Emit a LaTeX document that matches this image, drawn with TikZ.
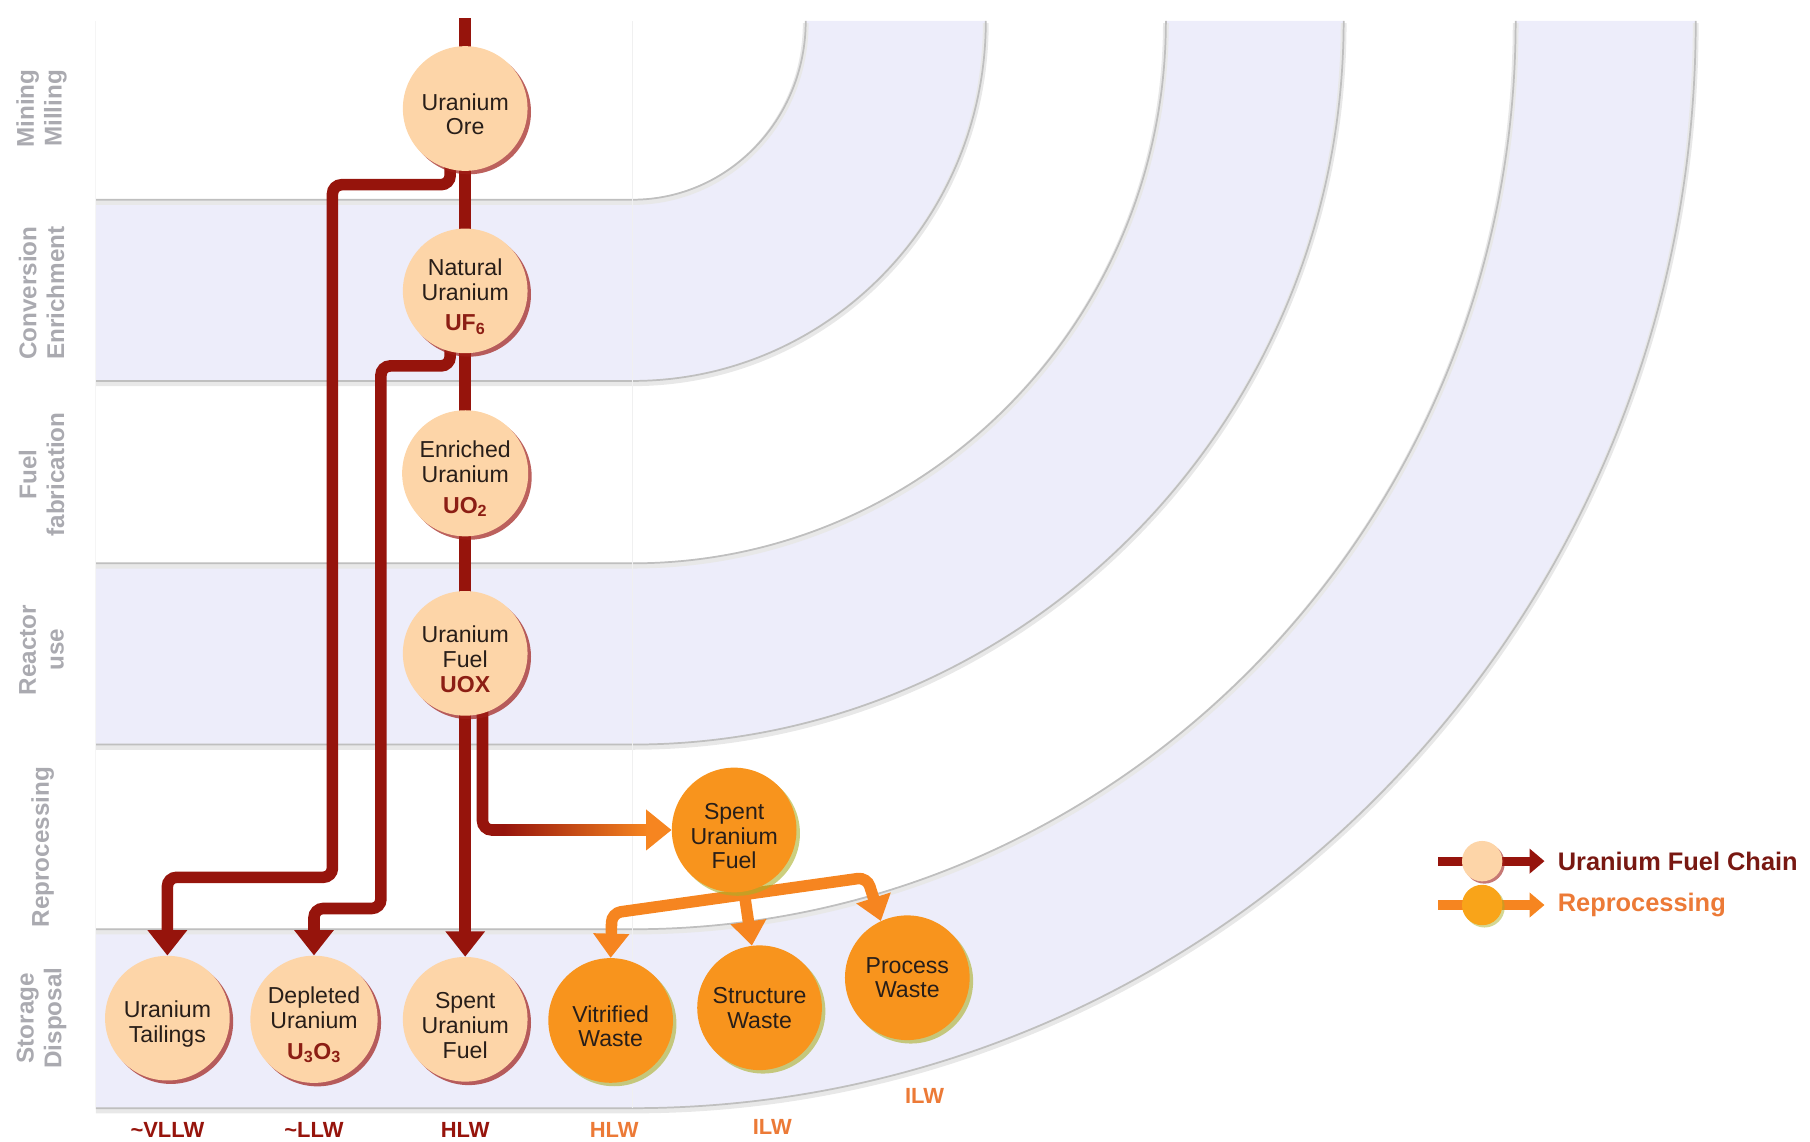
\documentclass[tikz,border=0pt]{standalone}
\usepackage{fontspec}
\setmainfont{Liberation Sans}
\usetikzlibrary{arrows.meta,shadows,calc}
\definecolor{peach}{RGB}{253,213,168}
\definecolor{fuelred}{RGB}{150,20,12}
\definecolor{fuelshadow}{RGB}{160,30,24}
\definecolor{repfill}{RGB}{248,148,29}
\definecolor{reporange}{RGB}{246,133,32}
\definecolor{repshadow}{RGB}{170,175,40}
\definecolor{bandblue}{RGB}{237,237,250}
\definecolor{rowgray}{RGB}{170,170,176}
\definecolor{inkdark}{RGB}{40,30,25}
\definecolor{formred}{RGB}{140,30,20}
\definecolor{wasteorange}{RGB}{236,122,55}
\definecolor{legred}{RGB}{120,24,18}
\newcommand\chemlabel[1]{{\color{formred}\bfseries #1}}
\newcommand\padtop{\mbox{}\\[3pt]}
\pgfdeclarelayer{bands}
\pgfdeclarelayer{links}
\pgfsetlayers{bands,links,main}

\begin{document}
\begin{tikzpicture}[x=1pt,y=1pt,
  wastebase/.style={circle, minimum size=108pt, inner sep=0pt, align=center,
    text=inkdark, font=\fontsize{20}{21.5}\selectfont},
  fuelnode/.style={wastebase, fill=peach,
    drop shadow={shadow xshift=3pt, shadow yshift=-3pt, fill=fuelshadow, opacity=0.7}},
  repnode/.style={wastebase, fill=repfill,
    drop shadow={shadow xshift=3pt, shadow yshift=-3pt, fill=repshadow, opacity=0.6}},
  rowlabel/.style={rotate=90, align=center, text=rowgray, font=\fontsize{21}{24}\selectfont\bfseries},
  fuelline/.style={draw=fuelred, line width=10pt, rounded corners=8pt},
  repline/.style={draw=reporange, line width=10pt, rounded corners=8pt},
  bigtip/.style={-{Triangle[width=33pt,length=22pt]}},
  reptip/.style={-{Triangle[width=30pt,length=21pt]}},
  reptips/.style={{Triangle[width=30pt,length=21pt]}-{Triangle[width=30pt,length=21pt]}},
  wastelabel/.style={font=\fontsize{19}{21}\selectfont\bfseries},
  legtext/.style={anchor=west, font=\fontsize{22}{24}\selectfont\bfseries}]
\useasboundingbox (0,0) rectangle (1568,-989);

% bands: straight on the left, quarter rings on the right
\begin{pgfonlayer}{bands}
\foreach \ra/\rb/\rc/\rd in {150/155/306/312, 462/470/616/627, 765/787/921/942}
  \fill[bandblue] (83,-18-\rb) -- (548,-18-\rb)
    arc[start angle=-90, end angle=0, x radius=\ra, y radius=\rb]
    -- ({548+\rc},-18) arc[start angle=0, end angle=-90, x radius=\rc, y radius=\rd]
    -- (83,-18-\rd) -- cycle;
\foreach \rx/\ry in {150/155, 306/312, 462/470, 616/627, 765/787, 921/942} {
  \draw[gray!18, line width=5pt, yshift=-2pt] (83,-18-\ry) -- (548,-18-\ry)
    arc[start angle=-90, end angle=0, x radius=\rx, y radius=\ry];
  \draw[gray!50, line width=1.5pt] (83,-18-\ry) -- (548,-18-\ry)
    arc[start angle=-90, end angle=0, x radius=\rx, y radius=\ry];
}
\draw[gray!12, line width=1pt] (548,-18) -- (548,-960);
\draw[gray!8, line width=1pt] (83,-18) -- (83,-960);
\end{pgfonlayer}

% row labels
\node[rowlabel] (rmine) at (36,-94) {Mining\\Milling};
\node[rowlabel] (rconv) at (36,-254) {Conversion\\Enrichment};
\node[rowlabel] (rfab) at (36,-411) {Fuel\\fabrication};
\node[rowlabel] (rreac) at (36,-563) {Reactor\\use};
\node[rowlabel] (rrepr) at (37,-734) {Reprocessing};
\node[rowlabel] (rstor) at (36,-882) {Storage\\Disposal};

% fuel chain
\coordinate (mine) at (403,-16);
\node[fuelnode] (ore) at (403,-94) {\padtop Uranium\\Ore};
\node[fuelnode] (natural) at (403,-252) {\padtop Natural\\Uranium\\[5pt]\chemlabel{UF\textsubscript{6}}};
\node[fuelnode] (enriched) at (403,-410) {\padtop Enriched\\Uranium\\[5pt]\chemlabel{UO\textsubscript{2}}};
\node[fuelnode] (uox) at (403,-566) {\padtop Uranium\\Fuel\\\chemlabel{UOX}};
\node[repnode] (reproc) at (636,-719) {\padtop Spent\\Uranium\\Fuel};

% storage row
\node[fuelnode] (tail) at (145,-882) {\padtop Uranium\\Tailings};
\node[fuelnode] (depl) at (272,-883) {\padtop Depleted\\Uranium\\[5pt]\chemlabel{U\textsubscript{3}O\textsubscript{3}}};
\node[fuelnode] (spent) at (403,-883) {\padtop Spent\\Uranium\\Fuel};
\node[repnode] (vitr) at (529,-884) {\padtop Vitrified\\Waste};
\node[repnode] (struct) at (658,-873) {Structure\\Waste};
\node[repnode] (proc) at (786,-847) {Process\\Waste};

\node[wastelabel, text=fuelred] (lvllw) at (145,-979) {\textasciitilde VLLW};
\node[wastelabel, text=fuelred] (lllw) at (272,-979) {\textasciitilde LLW};
\node[wastelabel, text=fuelred] (lhlw) at (403,-979) {HLW};
\node[wastelabel, text=wasteorange] (lhlwr) at (532,-979) {HLW};
\node[wastelabel, text=wasteorange] (lilws) at (669,-976) {ILW};
\node[wastelabel, text=wasteorange] (lilwp) at (801,-949) {ILW};

\begin{pgfonlayer}{links}
\draw[fuelline] (mine) -- (ore.center) -- (natural.center) -- (enriched.center) -- (uox.center);
\draw[fuelline, bigtip] (uox.center) -- (spent.north);
\draw[fuelline, bigtip] ([xshift=-13pt,yshift=10pt]ore.south) |- (288,-160) |- (145,-760) -- (tail.north);
\draw[fuelline, bigtip] ([xshift=-13pt,yshift=10pt]natural.south) |- (330,-317) |- (272,-787) -- (depl.north);
\draw[fuelline, -{Triangle[width=34pt,length=22pt,color=reporange]}]
  ([xshift=15pt,yshift=10pt]uox.south) |- (reproc.west);
\shade[left color=fuelred, right color=reporange] (436,-714) rectangle (561,-724);
% reprocessing split
\coordinate (bl) at (530,-791);
\coordinate (br) at (751,-760);
\draw[repline, reptips] (vitr.north) -- (bl) -- (br) -- (proc.115);
\draw[repline, reptip] ($(bl)!0.52!(br)$) -- (struct.97);
\end{pgfonlayer}

% legend
\coordinate (legfuelS) at (1246,-746);
\coordinate (legfuelE) at (1338,-746);
\coordinate (legrepS) at (1246,-784);
\coordinate (legrepE) at (1338,-784);
\draw[draw=fuelred, line width=8pt, -{Triangle[width=21pt,length=13pt]}] (legfuelS) -- (legfuelE);
\draw[draw=reporange, line width=8pt, -{Triangle[width=21pt,length=13pt]}] (legrepS) -- (legrepE);
\node[circle, fill=peach, minimum size=35pt, inner sep=0pt,
  drop shadow={shadow xshift=2pt, shadow yshift=-2pt, fill=fuelshadow, opacity=0.6}] (legfuel) at (1284,-746) {};
\node[circle, fill=repfill!85!yellow, minimum size=35pt, inner sep=0pt,
  drop shadow={shadow xshift=2pt, shadow yshift=-2pt, fill=repshadow, opacity=0.5}] (legrep) at (1284,-784) {};
\node[legtext, text=legred] (legfueltext) at (1346,-746) {Uranium Fuel Chain};
\node[legtext, text=wasteorange] (legreptext) at (1346,-784) {Reprocessing};
\end{tikzpicture}
\end{document}
